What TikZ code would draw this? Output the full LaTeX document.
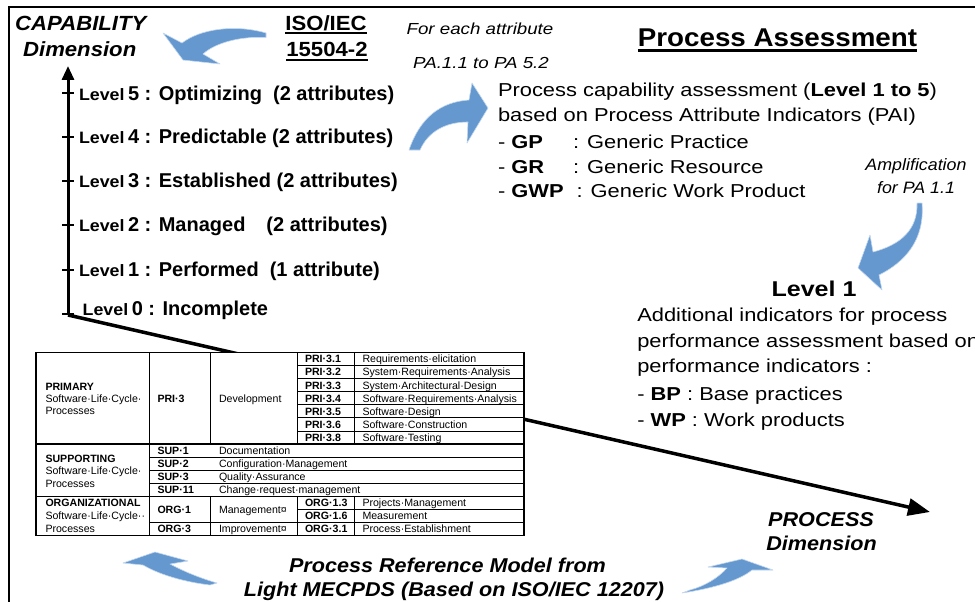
\documentclass[tikz,border=0pt]{standalone}
\usepackage{fontspec}
\setmainfont{Liberation Sans}
\newfontfamily\fA[FakeStretch=1.08]{Liberation Sans}
\newfontfamily\fB[FakeStretch=1.17]{Liberation Sans}
\usetikzlibrary{arrows.meta}
\definecolor{arrblue}{RGB}{100,152,206}
\definecolor{arredge}{RGB}{195,215,240}
\newcommand\lvsz[1]{{\fA\fontsize{16.5}{20}\selectfont #1}}
\begin{document}
\begin{tikzpicture}[x=1pt,y=-1pt,
  txt/.style={inner sep=0pt, outer sep=0pt},
  ttl/.style={txt, anchor=base, font={\fA\bfseries\itshape\fontsize{20.5}{24}\selectfont}},
  ttlb/.style={txt, anchor=base, font={\fA\bfseries\itshape\fontsize{20}{24}\selectfont}},
  isot/.style={txt, anchor=base, font={\fA\bfseries\fontsize{20.5}{24}\selectfont}},
  lvl/.style={txt, anchor=base west, font={\bfseries\fontsize{20}{24}\selectfont}},
  para/.style={txt, anchor=base west, font={\fB\fontsize{18.7}{22}\selectfont}},
  note/.style={txt, anchor=base, font={\fB\itshape\fontsize{16}{19}\selectfont}},
  ampl/.style={txt, anchor=base, font={\fA\itshape\fontsize{16.5}{19}\selectfont}},
  cell/.style={txt, anchor=base west, font={\fontsize{10.6}{12}\selectfont}},
  code/.style={txt, anchor=base west, font={\bfseries\fontsize{10.6}{12}\selectfont}},
  blockarrow/.style={fill=arrblue, draw=arredge, line width=0.6pt, line join=round},
  axis/.style={line width=3pt, -{Triangle[width=12pt,length=14pt]}},
  tickmark/.style={line width=2pt},
  grid/.style={line width=0.9pt},
  gridthick/.style={line width=1.3pt}
]
\useasboundingbox (0,0) rectangle (975,602);
% frame
\draw[line width=2.2pt, line join=miter] (9,604) -- (9,7) -- (977,7);

% axes
\coordinate (O) at (68,315);
\coordinate (Ytip) at (68,66);
\coordinate (Xtip) at (930,512);
\draw[axis] (O) -- (Ytip);
\draw[line width=3.5pt, -{Triangle[width=17pt,length=22pt]}] (O) -- (Xtip);
\foreach \ty in {93,137,181,225,270,314} \draw[tickmark] (62,\ty) -- (74,\ty);

% titles
\node[ttl] (cap) at (80.8,30.5) {CAPABILITY};
\node[ttl] (capdim) at (79.7,56.7) {Dimension};
\node[isot] (iso1) at (326,30.5) {ISO/IEC};
\node[isot] (iso2) at (327,57) {15504-2};
\draw[line width=2.2pt] ([yshift=-2.6pt]iso1.base west) -- ([yshift=-2.6pt]iso1.base east);
\draw[line width=2.2pt] ([yshift=-3.4pt]iso2.base west) -- ([yshift=-3.4pt]iso2.base east);

% levels
\node[lvl] (l5) at (79,100) {\lvsz{Level}\hspace{3.5pt}5 : Optimizing\hspace{11pt}(2 attributes)};
\node[lvl] (l4) at (79,143.3) {\lvsz{Level}\hspace{3.5pt}4 : Predictable (2 attributes)};
\node[lvl] (l3) at (79,187.7) {\lvsz{Level}\hspace{3.5pt}3 : Established (2 attributes)};
\node[lvl] (l2) at (79,231.7) {\lvsz{Level}\hspace{3.5pt}2 : Managed\hspace{21pt}(2 attributes)};
\node[lvl] (l1) at (79,276.7) {\lvsz{Level}\hspace{3.5pt}1 : Performed\hspace{11pt}(1 attribute)};
\node[lvl] (l0) at (82.7,315) {\lvsz{Level}\hspace{3.5pt}0 : Incomplete};

% right side texts
\node[txt, anchor=base, font={\fA\bfseries\fontsize{25.7}{30}\selectfont}] (pa) at (777.5,46.7) {Process Assessment};
\draw[line width=2.4pt] ([yshift=-4pt]pa.base west) -- ([yshift=-4pt]pa.base east);
\node[note] (fea) at (480,35) {For each attribute};
\node[note] (parange) at (481,68.3) {PA.1.1 to PA 5.2};
\node[para] (pc1) at (498,96.7) {Process capability assessment (\textbf{Level 1 to 5})};
\node[para] (pc2) at (498,121.5) {based on Process Attribute Indicators (PAI)};
\node[para] (gp) at (498,148) {- \textbf{GP}};
\node[para] (gpt) at (573,148) {: Generic Practice};
\node[para] (gr) at (498,173) {- \textbf{GR}};
\node[para] (grt) at (573,173) {: Generic Resource};
\node[para] (gwp) at (498,197.5) {- \textbf{GWP}};
\node[para] (gwpt) at (576.5,197.5) {: Generic Work Product};
\node[ampl] (amp1) at (916,170) {Amplification};
\node[ampl] (amp2) at (916,193) {for PA 1.1};
\node[txt, anchor=base, font={\fB\bfseries\fontsize{21.4}{25}\selectfont}] (lv1) at (814,296) {Level 1};
\node[para] (ad1) at (637.3,321.7) {Additional indicators for process};
\node[para] (ad2) at (637.3,347) {performance assessment based on};
\node[para] (ad3) at (637.3,372.5) {performance indicators :};
\node[para] (bp) at (637.3,400) {- \textbf{BP} : Base practices};
\node[para] (wp) at (637.3,426) {- \textbf{WP} : Work products};
\node[ttlb] (proc) at (821,526) {PROCESS};
\node[ttlb] (procdim) at (821.5,550) {Dimension};
\node[ttlb] (prm1) at (447.5,572.5) {Process Reference Model from};
\node[ttlb] (prm2) at (454,596.7) {Light MECPDS (Based on ISO/IEC 12207)};

% blue block arrows
\path[blockarrow] (266,33) .. controls (235,24) and (200,29) .. (182,43) -- (163,33) -- (183,60) -- (220,64) -- (203,54) .. controls (215,43) and (240,36) .. (266,37.5) -- cycle;
\path[blockarrow] (409,150) .. controls (420,118) and (440,102) .. (469,100) -- (472,83) -- (488,108) -- (467,143) -- (468,122) .. controls (445,122) and (428,132) .. (420,150) -- cycle;
\path[blockarrow] (917,203) .. controls (918,230) and (900,245) .. (873,252) -- (870,235) -- (858,268) -- (882,290) -- (879,275) .. controls (905,262) and (925,240) .. (922,203) -- cycle;
\path[blockarrow] (210,585) .. controls (185,582) and (160,575) .. (143,565) -- (123,563) -- (155,552) -- (188,561) -- (170,564) .. controls (185,572) and (200,578) .. (217,583) -- cycle;
\path[blockarrow] (682,593) .. controls (715,588) and (740,580) .. (752,570) -- (773,570) -- (742,559) -- (708,567) -- (727,568) .. controls (718,578) and (705,586) .. (690,590) -- cycle;

% table
\fill[white] (36,352.5) rectangle (524,535.62);
\draw[grid] (149,352.5) -- (149,535.62);
\draw[grid] (210,352.5) -- (210,444.06) (297,352.5) -- (297,444.06) (354,352.5) -- (354,444.06);
\draw[grid] (210,496.38) -- (210,535.62) (297,496.38) -- (297,535.62) (354,496.38) -- (354,535.62);
\foreach \yy in {365.58,378.66,391.74,404.82,417.9,430.98} \draw[grid] (297,\yy) -- (524,\yy);
\foreach \yy in {457.14,470.22,483.3} \draw[grid] (149,\yy) -- (524,\yy);
\draw[grid] (297,509.46) -- (524,509.46);
\draw[grid] (149,522.54) -- (524,522.54);
\draw[gridthick] (36,444.06) -- (524,444.06);
\draw[gridthick] (36,496.38) -- (524,496.38);
\draw[gridthick] (36,352.5) rectangle (524,535.62);

\node[code] (primary) at (45.5,390) {PRIMARY};
\node[cell] (primary2) at (45.5,402.4) {Software·Life·Cycle·};
\node[cell] (primary3) at (45.5,414.8) {Processes};
\node[code] (pri3) at (157.5,402.1) {PRI·3};
\node[cell] (dev) at (219,402.1) {Development};
\node[code] (c31) at (305,362.84) {PRI·3.1};
\node[code] (c32) at (305,375.92) {PRI·3.2};
\node[code] (c33) at (305,389.0) {PRI·3.3};
\node[code] (c34) at (305,402.08) {PRI·3.4};
\node[code] (c35) at (305,415.16) {PRI·3.5};
\node[code] (c36) at (305,428.24) {PRI·3.6};
\node[code] (c38) at (305,441.32) {PRI·3.8};
\node[cell] (t31) at (362.5,362.84) {Requirements·elicitation};
\node[cell] (t32) at (362.5,375.92) {System·Requirements·Analysis};
\node[cell] (t33) at (362.5,389.0) {System·Architectural·Design};
\node[cell] (t34) at (362.5,402.08) {Software·Requirements·Analysis};
\node[cell] (t35) at (362.5,415.16) {Software·Design};
\node[cell] (t36) at (362.5,428.24) {Software·Construction};
\node[cell] (t38) at (362.5,441.32) {Software·Testing};

\node[code] (supp) at (45.5,462.1) {SUPPORTING};
\node[cell] (supp2) at (45.5,474.8) {Software·Life·Cycle·};
\node[cell] (supp3) at (45.5,487.1) {Processes};
\node[code] (s1) at (157.5,454.4) {SUP·1};
\node[code] (s2) at (157.5,467.48) {SUP·2};
\node[code] (s3) at (157.5,480.56) {SUP·3};
\node[code] (s11) at (157.5,493.64) {SUP·11};
\node[cell] (st1) at (219,454.4) {Documentation};
\node[cell] (st2) at (219,467.48) {Configuration·Management};
\node[cell] (st3) at (219,480.56) {Quality·Assurance};
\node[cell] (st11) at (219,493.64) {Change·request·management};

\node[code] (org) at (45.5,506.72) {ORGANIZATIONAL};
\node[cell] (org2) at (45.5,519.8) {Software·Life·Cycle··};
\node[cell] (org3) at (45.5,532.88) {Processes};
\node[code] (o1) at (157.5,513.3) {ORG·1};
\node[code] (o3) at (157.5,532.88) {ORG·3};
\node[cell] (om) at (219,513.3) {Management¤};
\node[cell] (oi) at (219,532.88) {Improvement¤};
\node[code] (o13) at (305,506.72) {ORG·1.3};
\node[code] (o16) at (305,519.8) {ORG·1.6};
\node[code] (o31) at (305,532.88) {ORG·3.1};
\node[cell] (ot13) at (362.5,506.72) {Projects·Management};
\node[cell] (ot16) at (362.5,519.8) {Measurement};
\node[cell] (ot31) at (362.5,532.88) {Process·Establishment};
\end{tikzpicture}
\end{document}
